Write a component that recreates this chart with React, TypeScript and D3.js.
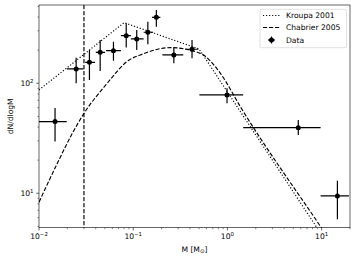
import React from 'react';
import * as d3 from 'd3';

// data
const massX = [0.0148, 0.0248, 0.0343, 0.0446, 0.0617, 0.0843, 0.109, 0.143, 0.176, 0.27, 0.421, 0.99, 5.65, 14.7];
const massLo = [0.01, 0.0197, 0.0309, 0.0401, 0.0516, 0.074, 0.0945, 0.129, 0.158, 0.204, 0.357, 0.504, 1.47, 9.75];
const massHi = [0.0197, 0.0296, 0.0394, 0.0503, 0.074, 0.0945, 0.129, 0.163, 0.194, 0.34, 0.491, 1.47, 9.75, 19.5];
const dndlogm = [44.8, 135, 155, 191, 198, 271, 253, 291, 398, 181, 204, 78.3, 39.5, 9.45];
const dnLo = [29.5, 100, 107, 129, 160, 211, 201, 226, 327, 152, 169, 65.8, 33.9, 5.8];
const dnHi = [59.6, 171, 201, 248, 239, 351, 305, 363, 463, 209, 248, 90, 46.4, 13.0];

const kroupaM = [0.01, 0.08, 0.5, 20];
const kroupaN = [87, 356, 205, 1.7];

const chabM = [0.01, 0.0163, 0.0226, 0.0301, 0.0512, 0.0906, 0.119, 0.248, 0.516, 0.843, 1.37, 9.75, 20];
const chabN = [8.3, 20.1, 35.1, 53.4, 96.5, 163, 181, 211, 187, 123, 61.3, 4.97, 2.0];

const cutoff = 0.03;

const W = 356, H = 261;
const left = 39, right = 350, top = 5, bottom = 227.7;
const font = 'DejaVu Sans, sans-serif';

const x = d3.scaleLog().domain([0.01, 20]).range([left, right]);
const y = d3.scaleLog().domain([4.86, 515]).range([bottom, top]);

const sup = (e: number) => (e < 0 ? '\u2212' + Math.abs(e) : String(e));

export default function App() {
  const line = d3.line<[number, number]>().x(d => x(d[0])).y(d => y(d[1]));
  const chabLine = d3.line<[number, number]>().x(d => x(d[0])).y(d => y(d[1])).curve(d3.curveMonotoneX);

  const kroupa = kroupaM.map((m, i) => [m, kroupaN[i]] as [number, number]);
  const chab = chabM.map((m, i) => [m, chabN[i]] as [number, number]);

  const xMajor = [-2, -1, 0, 1];
  const xMinor: number[] = [];
  [0.01, 0.1, 1, 10].forEach(d => {
    for (let k = 2; k <= 9; k++) if (d * k <= 20) xMinor.push(d * k);
  });
  const yMajor = [1, 2];
  const yMinor: number[] = [];
  [1, 10, 100].forEach(d => {
    for (let k = 2; k <= 9; k++) {
      const v = d * k;
      if (v >= 4.86 && v <= 515) yMinor.push(v);
    }
  });

  return (
    <svg width={W} height={H} style={{ position: 'absolute', left: 0, top: 0, background: '#fff' }} fontFamily={font}>
      <defs>
        <clipPath id="plot">
          <rect x={left} y={top} width={right - left} height={bottom - top} />
        </clipPath>
      </defs>
      <g clipPath="url(#plot)">
        <path d={line(kroupa) || ''} fill="none" stroke="#000" strokeWidth={1.15} strokeDasharray="1.15,1.9" />
        <path d={chabLine(chab) || ''} fill="none" stroke="#000" strokeWidth={1.15} strokeDasharray="4.2,1.8" />
        <line x1={x(cutoff)} x2={x(cutoff)} y1={top} y2={bottom} stroke="#000" strokeWidth={1.15} strokeDasharray="4.2,1.8" />
        {massX.map((m, i) => (
          <g key={i}>
            <line x1={x(massLo[i])} x2={x(massHi[i])} y1={y(dndlogm[i])} y2={y(dndlogm[i])} stroke="#000" strokeWidth={1.2} />
            <line x1={x(m)} x2={x(m)} y1={y(dnLo[i])} y2={y(dnHi[i])} stroke="#000" strokeWidth={1.2} />
            <circle cx={x(m)} cy={y(dndlogm[i])} r={2.5} fill="#000" />
          </g>
        ))}
      </g>

      {/* spines */}
      <rect x={left} y={top} width={right - left} height={bottom - top} fill="none" stroke="#000" strokeWidth={0.6} />

      {/* x ticks */}
      {xMinor.map(v => (
        <line key={'xm' + v} x1={x(v)} x2={x(v)} y1={bottom} y2={bottom + 1.5} stroke="#000" strokeWidth={0.5} />
      ))}
      {xMajor.map(e => (
        <g key={'xM' + e}>
          <line x1={x(10 ** e)} x2={x(10 ** e)} y1={bottom} y2={bottom + 2.7} stroke="#000" strokeWidth={0.6} />
          <text x={x(10 ** e)} y={239} fontSize={7.6} textAnchor="middle" fill="#000">
            10<tspan fontSize={5.4} dy={-3.2}>{sup(e)}</tspan>
          </text>
        </g>
      ))}

      {/* y ticks */}
      {yMinor.map(v => (
        <line key={'ym' + v} x1={left - 1.5} x2={left} y1={y(v)} y2={y(v)} stroke="#000" strokeWidth={0.5} />
      ))}
      {yMajor.map(e => (
        <g key={'yM' + e}>
          <line x1={left - 2.7} x2={left} y1={y(10 ** e)} y2={y(10 ** e)} stroke="#000" strokeWidth={0.6} />
          <text x={33.5} y={y(10 ** e) + 2.8} fontSize={7.6} textAnchor="end" fill="#000">
            10<tspan fontSize={5.4} dy={-3.2}>{sup(e)}</tspan>
          </text>
        </g>
      ))}

      {/* axis labels */}
      <text x={(left + right) / 2} y={251.5} fontSize={7.6} textAnchor="middle" fill="#000">
        M [M<tspan fontSize={5.6} dy={1.5}>{'\u2299'}</tspan><tspan dy={-1.5}>]</tspan>
      </text>
      <text transform={`translate(12.5,${(top + bottom) / 2}) rotate(-90)`} fontSize={7.6} textAnchor="middle" fill="#000">
        dN/dlogM
      </text>

      {/* legend */}
      <g>
        <rect x={260} y={9.3} width={86.5} height={38.4} rx={1.5} fill="#fff" fillOpacity={0.8} stroke="#ccc" strokeWidth={0.6} />
        <line x1={263} x2={280} y1={15.5} y2={15.5} stroke="#000" strokeWidth={1.15} strokeDasharray="1.15,1.9" />
        <text x={286} y={18.3} fontSize={7.6} fill="#000">Kroupa 2001</text>
        <line x1={263} x2={280} y1={27.5} y2={27.5} stroke="#000" strokeWidth={1.15} strokeDasharray="4.2,1.8" />
        <text x={286} y={30.3} fontSize={7.6} fill="#000">Chabrier 2005</text>
        <line x1={268} x2={275} y1={40} y2={40} stroke="#000" strokeWidth={1.2} />
        <line x1={271.5} x2={271.5} y1={36.5} y2={43.5} stroke="#000" strokeWidth={1.2} />
        <circle cx={271.5} cy={40} r={2.5} fill="#000" />
        <text x={286} y={42.8} fontSize={7.6} fill="#000">Data</text>
      </g>
    </svg>
  );
}
